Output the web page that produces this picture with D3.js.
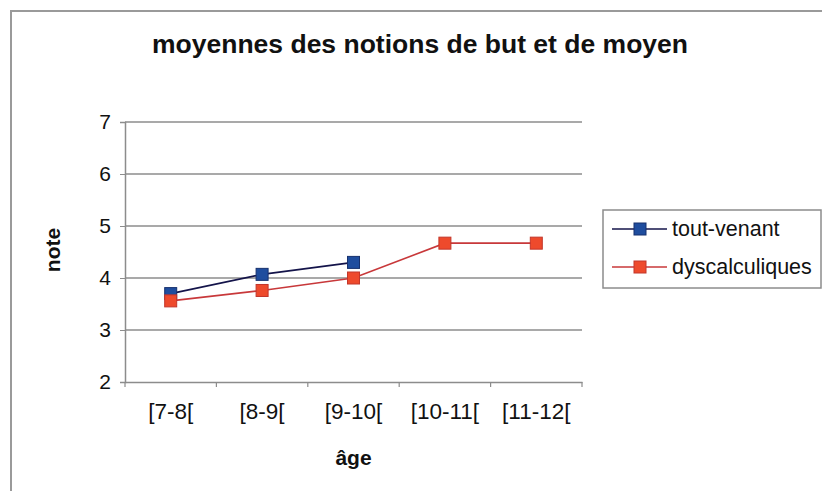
<!DOCTYPE html>
<html>
<head>
<meta charset="utf-8">
<script src="https://cdn.jsdelivr.net/npm/d3@7"></script>
<style>
    body { margin: 0; background: #fff; }
    text { font-family: 'Liberation Sans', Arial, sans-serif; fill: #111; }
</style>
</head>
<body>
<div id="chart"></div>
<script>
const TITLE = 'moyennes des notions de but et de moyen';
const X_LABEL = 'âge';
const Y_LABEL = 'note';

const categories = ['[7-8[', '[8-9[', '[9-10[', '[10-11[', '[11-12['];
const seriesNames = ['tout-venant', 'dyscalculiques'];
const toutVenant = [3.7, 4.07, 4.3, null, null];
const dyscalculiques = [3.56, 3.76, 4.0, 4.67, 4.67];
const yTicks = [2, 3, 4, 5, 6, 7];

const WIDTH = 822;
const HEIGHT = 491;
const margin = { top: 122, bottom: 109, left: 125, right: 240 };

const styles = [
    { line: '#14144a', fill: '#1f4d9e', stroke: '#17316e' },
    { line: '#c8383a', fill: '#ee4a2c', stroke: '#c2362a' }
];

function drawChart() {
    let chartWidth = WIDTH - margin.left - margin.right;
    let chartHeight = HEIGHT - margin.top - margin.bottom;

    const svg = d3.select('#chart').append('svg').attr('width', WIDTH).attr('height', HEIGHT);

    // outer frame of the chart area (runs off the right and bottom edges)
    svg.append('rect')
        .attr('x', 11).attr('y', 11)
        .attr('width', 820).attr('height', 490)
        .attr('fill', 'none').attr('stroke', '#9a9a9a').attr('stroke-width', 2);

    svg.append('text')
        .attr('x', 420).attr('y', 53)
        .attr('text-anchor', 'middle')
        .attr('font-size', 25).attr('font-weight', 'bold')
        .attr('textLength', 536).attr('lengthAdjust', 'spacingAndGlyphs')
        .text(TITLE);

    const chart = svg.append('g').attr('transform', `translate(${margin.left}, ${margin.top})`);

    const xScale = d3.scaleBand().domain(categories).range([0, chartWidth]);
    const yScale = d3.scaleLinear().domain([2, 7]).range([chartHeight, 0]);

    // horizontal grid lines
    chart.append('g')
        .selectAll('line')
        .data(yTicks.filter((t) => t > 2))
        .enter()
        .append('line')
        .attr('x1', 0).attr('x2', chartWidth)
        .attr('y1', (t) => yScale(t)).attr('y2', (t) => yScale(t))
        .attr('stroke', '#8c8c8c').attr('stroke-width', 1.5);

    // y axis
    const yAxis = chart.append('g')
        .call(d3.axisLeft(yScale).tickValues(yTicks).tickSize(5).tickPadding(9).tickFormat(d3.format('d')));
    yAxis.select('.domain').attr('stroke', '#8c8c8c').attr('stroke-width', 1.5);
    yAxis.selectAll('.tick line').attr('stroke', '#8c8c8c');
    yAxis.selectAll('.tick text').attr('font-size', 21).attr('fill', '#111')
        .style('font-family', "'Liberation Sans', Arial, sans-serif");

    // x axis: ticks sit between categories
    const xAxis = chart.append('g').attr('transform', `translate(0, ${chartHeight})`)
        .call(d3.axisBottom(xScale).tickSize(0).tickPadding(21));
    xAxis.select('.domain').attr('stroke', '#8c8c8c').attr('stroke-width', 1.5);
    xAxis.selectAll('.tick text').attr('font-size', 22.5).attr('fill', '#111')
        .style('font-family', "'Liberation Sans', Arial, sans-serif");

    const edges = categories.map((c) => xScale(c)).concat([chartWidth]);
    chart.append('g')
        .selectAll('line')
        .data(edges)
        .enter()
        .append('line')
        .attr('x1', (d) => d).attr('x2', (d) => d)
        .attr('y1', chartHeight).attr('y2', chartHeight + 5)
        .attr('stroke', '#8c8c8c').attr('stroke-width', 1.2);

    // axis titles
    svg.append('text')
        .attr('x', margin.left + chartWidth / 2).attr('y', 465)
        .attr('text-anchor', 'middle')
        .attr('font-size', 21).attr('font-weight', 'bold')
        .text(X_LABEL);

    svg.append('text')
        .attr('transform', `translate(60, ${margin.top + chartHeight / 2 - 2}) rotate(-90)`)
        .attr('text-anchor', 'middle')
        .attr('font-size', 21).attr('font-weight', 'bold')
        .text(Y_LABEL);

    const cx = (i) => xScale(categories[i]) + xScale.bandwidth() / 2;
    const line = d3.line()
        .defined((v) => v !== null)
        .x((v, i) => cx(i))
        .y((v) => yScale(v));

    const series = [toutVenant, dyscalculiques];
    const markerSize = 12;

    series.forEach((values, s) => {
        chart.append('path')
            .datum(values)
            .attr('d', line)
            .attr('fill', 'none')
            .attr('stroke', styles[s].line)
            .attr('stroke-width', 1.6);

        chart.append('g')
            .selectAll('rect')
            .data(values.map((v, i) => ({ v, i })).filter((d) => d.v !== null))
            .enter()
            .append('rect')
            .attr('x', (d) => cx(d.i) - markerSize / 2)
            .attr('y', (d) => yScale(d.v) - markerSize / 2)
            .attr('width', markerSize).attr('height', markerSize)
            .attr('fill', styles[s].fill)
            .attr('stroke', styles[s].stroke).attr('stroke-width', 1);
    });

    // legend
    const legend = svg.append('g').attr('transform', 'translate(603, 210)');
    legend.append('rect')
        .attr('width', 218).attr('height', 78)
        .attr('fill', '#fff').attr('stroke', '#8c8c8c').attr('stroke-width', 1.5);

    const items = legend.selectAll('.item')
        .data(seriesNames)
        .enter()
        .append('g')
        .attr('class', 'item')
        .attr('transform', (d, i) => `translate(0, ${19 + i * 38})`);

    items.append('line')
        .attr('x1', 9).attr('x2', 64)
        .attr('stroke', (d, i) => styles[i].line).attr('stroke-width', 1.6);
    items.append('rect')
        .attr('x', 37 - markerSize / 2).attr('y', -markerSize / 2)
        .attr('width', markerSize).attr('height', markerSize)
        .attr('fill', (d, i) => styles[i].fill)
        .attr('stroke', (d, i) => styles[i].stroke);
    items.append('text')
        .attr('x', 69).attr('y', 7)
        .attr('font-size', 21.5)
        .text((d) => d);
}

drawChart();
</script>
</body>
</html>
